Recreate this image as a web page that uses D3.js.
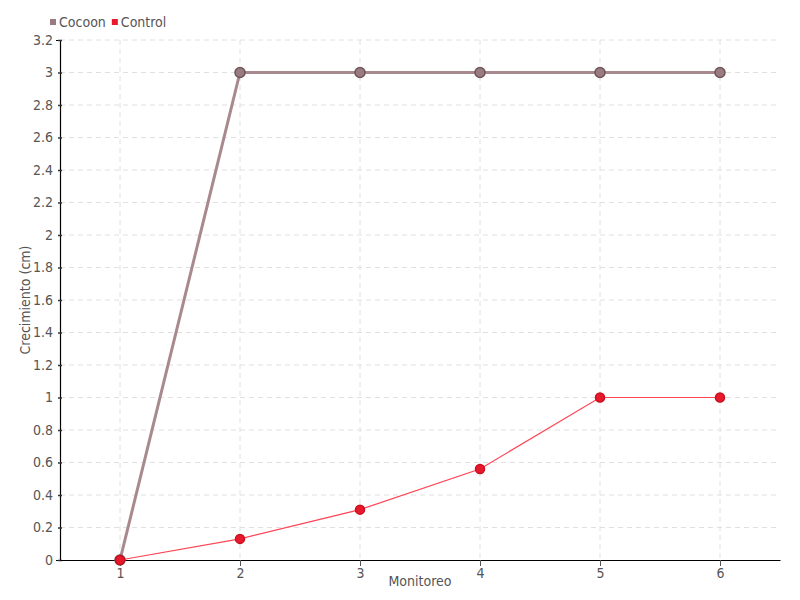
<!DOCTYPE html>
<html>
<head>
<meta charset="utf-8">
<script src="https://cdn.jsdelivr.net/npm/d3@7"></script>
<style>
  body { margin: 0; background: #fff; }
  text { font-family: "Liberation Sans Narrow", "DejaVu Sans Condensed", sans-serif; fill: #555; }
</style>
</head>
<body>
<script>
const categories = ["1", "2", "3", "4", "5", "6"];
const cocoon = [0, 3, 3, 3, 3, 3];
const control = [0, 0.13, 0.31, 0.56, 1, 1];
const yTicks = d3.range(0, 3.21, 0.2).map(v => +v.toFixed(1));

const series = [
  { name: "Cocoon", values: cocoon, line: "#a88a8e", dot: "#9a7b80", dotStroke: "#6e555a", width: 3, r: 5 },
  { name: "Control", values: control, line: "#ff4455", dot: "#e8192c", dotStroke: "#c8101f", width: 1.2, r: 4.5 }
];

const W = 800, H = 600;
const mLeft = 60, mRight = 780, mTop = 40, mBottom = 560;

const svg = d3.select("body").append("svg")
  .attr("width", W)
  .attr("height", H);

const x = d3.scalePoint().domain(categories).range([mLeft, mRight]).padding(0.5);
const y = d3.scaleLinear().domain([0, 3.2]).range([mBottom, mTop]);

// grid
svg.append("g").selectAll("line").data(yTicks.slice(1)).join("line")
  .attr("x1", mLeft).attr("x2", mRight)
  .attr("y1", d => y(d)).attr("y2", d => y(d))
  .attr("stroke", "#e0e0e0").attr("stroke-dasharray", "5,4");
svg.append("g").selectAll("line").data(categories).join("line")
  .attr("x1", d => x(d)).attr("x2", d => x(d))
  .attr("y1", mTop).attr("y2", mBottom)
  .attr("stroke", "#e0e0e0").attr("stroke-dasharray", "5,4");

// axes
const fontStack = "'Liberation Sans Narrow', 'DejaVu Sans Condensed', sans-serif";
const yAxis = svg.append("g")
  .attr("transform", `translate(${mLeft},0)`)
  .call(d3.axisLeft(y).tickValues(yTicks).tickFormat(d => d3.format("~g")(d)).tickSize(4).tickPadding(3));
yAxis.select(".domain").attr("stroke", "#000").attr("stroke-width", 1.2);
yAxis.selectAll(".tick line").attr("stroke", "#333").attr("stroke-width", 1.5).attr("transform", "translate(2,0)");
yAxis.selectAll(".tick text").attr("font-size", 14).attr("fill", "#555").style("font-family", fontStack);

const xAxis = svg.append("g")
  .attr("transform", `translate(0,${mBottom})`)
  .call(d3.axisBottom(x).tickSize(6).tickSizeOuter(0).tickPadding(2));
xAxis.select(".domain").attr("stroke", "#000").attr("stroke-width", 1.2);
xAxis.selectAll(".tick line").attr("stroke", "#555");
xAxis.selectAll(".tick text").attr("font-size", 14).attr("fill", "#555").style("font-family", fontStack);

// axis titles
svg.append("text")
  .attr("x", x("3") + (x("4") - x("3")) / 2)
  .attr("y", 586)
  .attr("text-anchor", "middle")
  .attr("font-size", 14)
  .text("Monitoreo");
svg.append("text")
  .attr("transform", `translate(30,${(mTop + mBottom) / 2}) rotate(-90)`)
  .attr("text-anchor", "middle")
  .attr("font-size", 14)
  .text("Crecimiento (cm)");

// lines and points
const line = d3.line().x((d, i) => x(categories[i])).y(d => y(d));
series.forEach(s => {
  svg.append("path")
    .datum(s.values)
    .attr("d", line)
    .attr("fill", "none")
    .attr("stroke", s.line)
    .attr("stroke-width", s.width);
});
series.forEach(s => {
  svg.append("g").selectAll("circle").data(s.values).join("circle")
    .attr("cx", (d, i) => x(categories[i]))
    .attr("cy", d => y(d))
    .attr("r", s.r)
    .attr("fill", s.dot)
    .attr("stroke", s.dotStroke)
    .attr("stroke-width", 1.5);
});

// legend
const legend = svg.append("g").attr("transform", "translate(50,22)");
let lx = 0;
series.forEach(s => {
  const g = legend.append("g").attr("transform", `translate(${lx},0)`);
  g.append("rect").attr("x", 0).attr("y", -3).attr("width", 6).attr("height", 6).attr("fill", s.dot);
  const t = g.append("text").attr("x", 9).attr("y", 5).attr("font-size", 14).text(s.name);
  lx += 9 + t.node().getComputedTextLength() + 6;
});
</script>
</body>
</html>
